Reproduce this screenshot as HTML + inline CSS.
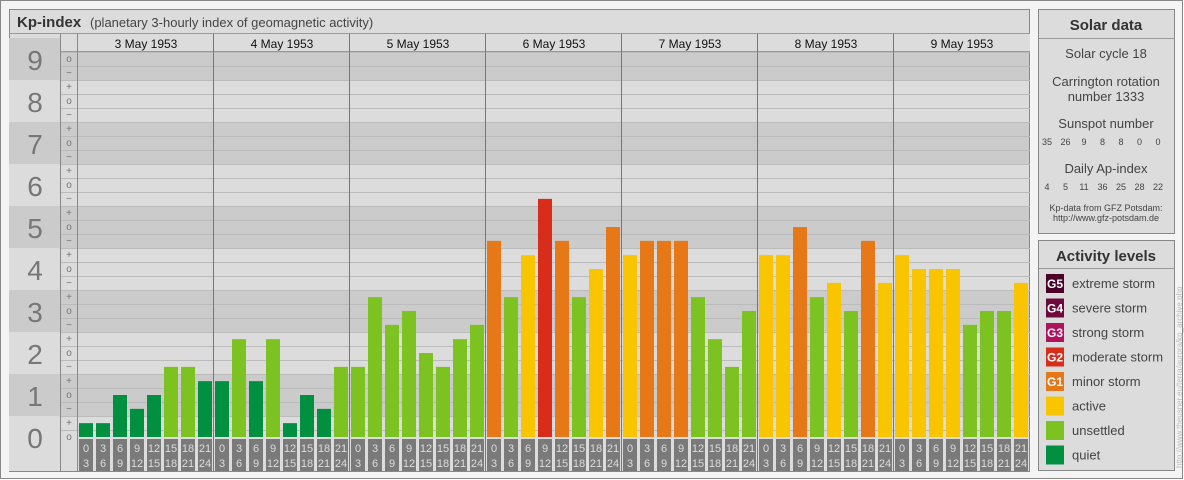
<!DOCTYPE html>
<html><head><meta charset="utf-8"><style>
body{margin:0;background:#fff;}
svg{display:block;font-family:"Liberation Sans",sans-serif;}
</style></head><body>
<svg id="c" width="1184" height="480" viewBox="0 0 1184 480">
<rect x="0.5" y="0.5" width="1182" height="478" fill="#f4f4f4" stroke="#888"/>
<rect x="9.5" y="9.5" width="1020" height="462" fill="#dcdcdc" stroke="#888"/>
<line x1="9" y1="33.5" x2="1030" y2="33.5" stroke="#999"/>
<text x="17" y="27" font-size="15" font-weight="bold" fill="#333">Kp-index</text>
<text x="90" y="27" font-size="13" fill="#444">(planetary 3-hourly index of geomagnetic activity)</text>
<g id="plot"></g>
<rect x="1038.5" y="9.5" width="136" height="224" fill="#dcdcdc" stroke="#888"/>
<line x1="1038" y1="38.5" x2="1175" y2="38.5" stroke="#999"/>
<text x="1106" y="30" font-size="15" font-weight="bold" fill="#333" text-anchor="middle">Solar data</text>
<g font-size="13" fill="#444" text-anchor="middle">
<text x="1106" y="58">Solar cycle 18</text>
<text x="1106" y="86">Carrington rotation</text>
<text x="1106" y="101">number 1333</text>
<text x="1106" y="128">Sunspot number</text>
<text x="1106" y="173">Daily Ap-index</text>
</g>
<g id="ssn" font-size="9" fill="#444" text-anchor="middle"></g>
<text x="1106" y="211" font-size="9" fill="#444" text-anchor="middle">Kp-data from GFZ Potsdam:</text>
<text x="1106" y="221" font-size="9" fill="#444" text-anchor="middle">http://www.gfz-potsdam.de</text>
<rect x="1038.5" y="240.5" width="136" height="230" fill="#dcdcdc" stroke="#888"/>
<line x1="1038" y1="268.5" x2="1175" y2="268.5" stroke="#999"/>
<text x="1106" y="261" font-size="15" font-weight="bold" fill="#333" text-anchor="middle">Activity levels</text>
<g id="legend"></g>
<text transform="translate(1182,468) rotate(-90)" font-size="8" fill="#bbb">http://www.theusner.eu/terra/aurora/kp_archive.php</text>
</svg>
<script>
const days = ["3 May 1953","4 May 1953","5 May 1953","6 May 1953","7 May 1953","8 May 1953","9 May 1953"];
const kpValues = [
 0.33,0.33,1,0.67,1,1.67,1.67,1.33,
 1.33,2.33,1.33,2.33,0.33,1,0.67,1.67,
 1.67,3.33,2.67,3,2,1.67,2.33,2.67,
 4.67,3.33,4.33,5.67,4.67,3.33,4,5,
 4.33,4.67,4.67,4.67,3.33,2.33,1.67,3,
 4.33,4.33,5,3.33,3.67,3,4.67,3.67,
 4.33,4,4,4,2.67,3,3,3.67];
const sunspots = [35,26,9,8,8,0,0];
const apIndex = [4,5,11,36,25,28,22];
const yTicks = [0,1,2,3,4,5,6,7,8,9];
const hourStart = ["0","3","6","9","12","15","18","21"];
const hourEnd = ["3","6","9","12","15","18","21","24"];
const legendLabels = ["extreme storm","severe storm","strong storm","moderate storm","minor storm","active","unsettled","quiet"];
const legendCodes = ["G5","G4","G3","G2","G1","","",""];
const legendColors = ["#4a0228","#6d0a3c","#b0125e","#d92d1c","#e67817","#f9c500","#7cc220","#009040"];

const NS="http://www.w3.org/2000/svg";
const X0=78, DAYW=136, SLOT=17, Y0=437, UNIT=42;
const y=v=>Y0-v*UNIT;
const x=i=>X0+Math.floor(i/8)*DAYW+(i%8)*SLOT;
function mk(p,tag,a,txt){const e=document.createElementNS(NS,tag);for(const k in a)e.setAttribute(k,a[k]);if(txt!==undefined)e.textContent=txt;p.appendChild(e);return e;}
function color(v){if(v>=8.67)return legendColors[0];if(v>=7.67)return legendColors[1];if(v>=6.67)return legendColors[2];if(v>=5.67)return legendColors[3];if(v>=4.67)return legendColors[4];if(v>=3.67)return legendColors[5];if(v>=1.67)return legendColors[6];return legendColors[7];}
const P=document.getElementById('plot');
yTicks.forEach(n=>{
 const top=Math.max(y(n+0.5),34), bot=Math.min(y(n-0.5),Y0+21);
 const r=mk(P,'rect',{x:9,y:top,width:1020,height:bot-top,fill:(n%2)?'#cbcbcb':'#dcdcdc'});
 
 
 const t=mk(P,'text',{x:35,y:y(n)+11,'font-size':28,fill:'#777','text-anchor':'middle'},String(n));
 
 
 [[-1/3,'−'],[0,'o'],[1/3,'+']].forEach(([d,s])=>{
  const v=n+d; if(v<0||v>9)return;
  mk(P,'text',{x:69,y:y(v)+3,'font-size':10,fill:'#777','text-anchor':'middle'},s);
 });
});
mk(P,'rect',{x:9,y:Y0,width:51,height:34,fill:'#dcdcdc'});
mk(P,'text',{x:35,y:y(0)+11,'font-size':28,fill:'#777','text-anchor':'middle'},"0");
for(let k=0;k<28;k++){const yy=Math.round(y(k/3+1/6))+0.5;if(yy<52)continue;mk(P,'line',{x1:60,x2:1030,y1:yy,y2:yy,stroke:'#bbb'});}
mk(P,'rect',{x:60,y:34,width:970,height:18,fill:'#dcdcdc'});
mk(P,'line',{x1:60,x2:1030,y1:51.5,y2:51.5,stroke:'#999'});
mk(P,'line',{x1:60.5,x2:60.5,y1:34,y2:471,stroke:'#888'});
mk(P,'line',{x1:77.5,x2:77.5,y1:34,y2:471,stroke:'#888'});
days.forEach((d,i)=>{
 const dx=X0+i*DAYW;
 if(i>0)mk(P,'line',{x1:dx-0.5,x2:dx-0.5,y1:34,y2:471,stroke:'#777'});
 const t=mk(P,'text',{x:dx+DAYW/2,y:48,'font-size':12,fill:'#111','text-anchor':'middle'},d);
 
 
});
kpValues.forEach((v,i)=>{
 const b=mk(P,'rect',{x:x(i)+1,y:y(v),width:14,height:Y0-y(v),fill:color(v)});
 
 
 const h=i%8;
 mk(P,'rect',{x:x(i)+1,y:439,width:14,height:32,fill:'#7a7a7a'});
 mk(P,'text',{x:x(i)+8,y:452,'font-size':11,fill:'#ddd','text-anchor':'middle'},hourStart[h]);
 mk(P,'text',{x:x(i)+8,y:467,'font-size':11,fill:'#ddd','text-anchor':'middle'},hourEnd[h]);
});
const S=document.getElementById('ssn');
sunspots.forEach((s,i)=>{const t=mk(S,'text',{x:1047+i*18.5,y:145},String(s));
 
 });
apIndex.forEach((s,i)=>{const t=mk(S,'text',{x:1047+i*18.5,y:190},String(s));
 
 });
const L=document.getElementById('legend');
legendLabels.forEach((l,i)=>{
 const yy=274+i*24.5;
 const g=mk(L,'g',{});
 
 
 mk(g,'rect',{x:1046,y:yy,width:18,height:19,fill:legendColors[i]});
 if(legendCodes[i])mk(g,'text',{x:1055,y:yy+14,'font-size':12,'font-weight':'bold',fill:'#fff','text-anchor':'middle'},legendCodes[i]);
 mk(g,'text',{x:1072,y:yy+14,'font-size':13,fill:'#444'},l);
});
</script>
</body></html>
